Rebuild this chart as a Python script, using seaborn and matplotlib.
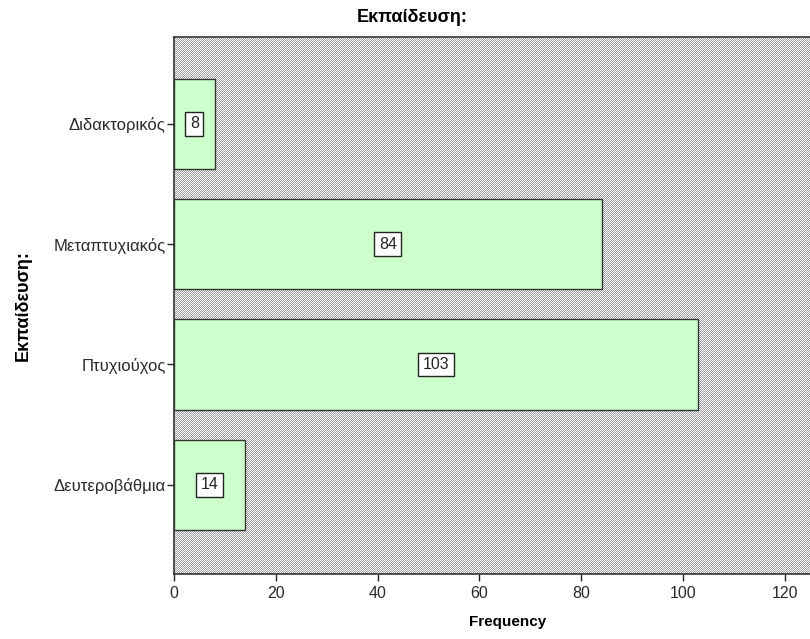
import numpy as np
import pandas as pd
import matplotlib
matplotlib.use("Agg")
import matplotlib.pyplot as plt
import seaborn as sns

categories = ["Διδακτορικός", "Μεταπτυχιακός", "Πτυχιούχος", "Δευτεροβάθμια"]
frequencies = [8, 84, 103, 14]
x_ticks = [0, 20, 40, 60, 80, 100, 120]

df = pd.DataFrame({"Εκπαίδευση:": categories, "Frequency": frequencies})

sns.set_style("white")
plt.rcParams["font.family"] = ["Liberation Sans", "DejaVu Sans"]

W, H, DPI = 810, 639, 100
fig = plt.figure(figsize=(W / DPI, H / DPI), dpi=DPI)
left_px, right_px, top_px, bottom_px = 174, 842, 37, 574
ax = fig.add_axes([left_px / W, 1 - bottom_px / H,
                   (right_px - left_px) / W, (bottom_px - top_px) / H])
ax.patch.set_visible(False)

# dotted grey backdrop of the plot area, placed pixel for pixel
ny, nx = bottom_px - top_px, W - left_px
yy, xx = np.mgrid[0:ny, 0:nx]
checker = np.where((xx + yy) % 2 == 0, 0.62, 1.0)
fig.figimage(np.dstack([checker] * 3), xo=left_px, yo=H - bottom_px,
             origin="upper", zorder=-1)

xmax = (right_px - left_px) / 5.09
sns.barplot(data=df, y="Εκπαίδευση:", x="Frequency", orient="h",
            color="#ccffcc", edgecolor="#333333", linewidth=1.0,
            width=0.75, saturation=1, ax=ax, zorder=2)

for i, v in enumerate(frequencies):
    ax.text(v / 2, i, str(v), ha="center", va="center", fontsize=11.5,
            color="#222222", zorder=4,
            bbox=dict(boxstyle="square,pad=0.28", fc="white", ec="#222222", lw=1))

ax.set_xlim(0, xmax)
ax.set_ylim(3.74, -0.72)
ax.set_xticks(x_ticks)
ax.set_xticklabels([str(t) for t in x_ticks])
ax.tick_params(axis="both", direction="out", length=5, width=1, color="#222222",
               labelcolor="#2a2a2a", bottom=True, left=True)
ax.tick_params(axis="x", pad=4, labelsize=11.5)
ax.tick_params(axis="y", pad=1, labelsize=12)
for side in ["left", "bottom", "top"]:
    ax.spines[side].set_color("#333333")
    ax.spines[side].set_linewidth(1.2)
ax.spines["right"].set_visible(False)

ax.set_xlabel("Frequency", fontsize=11, fontweight="bold", labelpad=10,
              color="black")
ax.set_ylabel("Εκπαίδευση:", fontsize=13, fontweight="bold", labelpad=16,
              color="black")
fig.text(412 / W, 1 - 17 / H, "Εκπαίδευση:", ha="center", va="center",
         fontsize=13, fontweight="bold", color="black")

fig.savefig("out.png", dpi=DPI)
